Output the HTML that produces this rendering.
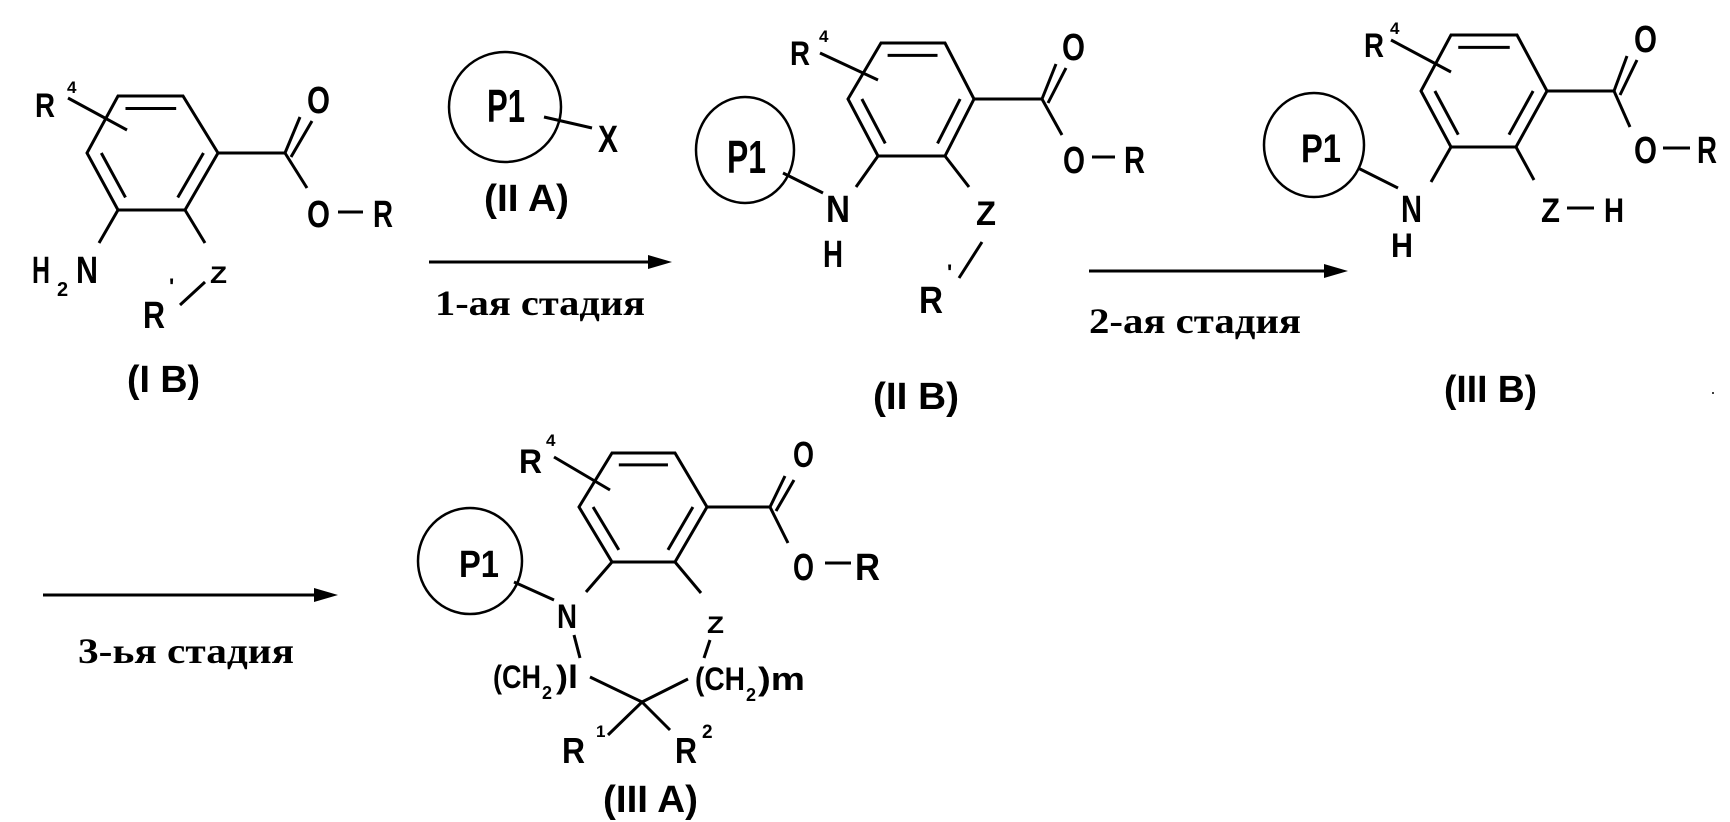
<!DOCTYPE html>
<html><head><meta charset="utf-8"><style>
html,body{margin:0;padding:0;background:#fff;}
svg{display:block;}
.t{font-family:"Liberation Sans Narrow","Liberation Sans",sans-serif;font-weight:bold;fill:#000;}
.s{font-family:"Liberation Serif",serif;font-weight:bold;fill:#000;}
line,polyline,polygon.r{stroke:#000;stroke-width:3;fill:none;}
ellipse{stroke:#000;stroke-width:2.5;fill:none;}
</style></head><body>
<svg width="1730" height="822" viewBox="0 0 1730 822" xmlns="http://www.w3.org/2000/svg">

<!-- ===== I B ===== -->
<polygon class="r" points="118,96 183,96 218,153 185,210 118,210 87,153"/>
<g transform="translate(152,153) scale(0.78) translate(-152,-153)">
<line x1="118" y1="96" x2="183" y2="96" vector-effect="non-scaling-stroke"/>
<line x1="87" y1="153" x2="118" y2="210" vector-effect="non-scaling-stroke"/>
<line x1="218" y1="153" x2="185" y2="210" vector-effect="non-scaling-stroke"/>
</g>
<line x1="68" y1="98" x2="127" y2="130"/>
<line x1="218" y1="153" x2="285" y2="153"/>
<line x1="285" y1="153" x2="300" y2="117"/>
<line x1="291" y1="157" x2="312" y2="121"/>
<line x1="285" y1="153" x2="307" y2="188"/>
<line x1="338" y1="212" x2="363" y2="212"/>
<line x1="118" y1="210" x2="99" y2="243"/>
<line x1="185" y1="210" x2="205" y2="243"/>
<line x1="180" y1="305" x2="205" y2="282"/>
<text class="t" x="35" y="117" font-size="34" textLength="20" lengthAdjust="spacingAndGlyphs">R</text>
<text class="t" x="67" y="93" font-size="17">4</text>
<text class="t" x="307" y="113" font-size="38" textLength="23" lengthAdjust="spacingAndGlyphs">O</text>
<text class="t" x="307" y="227" font-size="38" textLength="23" lengthAdjust="spacingAndGlyphs">O</text>
<text class="t" x="373" y="227" font-size="38" textLength="20" lengthAdjust="spacingAndGlyphs">R</text>
<text class="t" x="32" y="283" font-size="38" textLength="18" lengthAdjust="spacingAndGlyphs">H</text>
<text class="t" x="57" y="296" font-size="20">2</text>
<text class="t" x="76" y="283" font-size="38" textLength="22" lengthAdjust="spacingAndGlyphs">N</text>
<text class="t" x="210" y="283" font-size="24" textLength="17" lengthAdjust="spacingAndGlyphs">Z</text>
<text class="t" x="143" y="328" font-size="38" textLength="22" lengthAdjust="spacingAndGlyphs">R</text>
<text class="t" x="169" y="294" font-size="22">'</text>
<text class="t" x="127" y="392" font-size="38" textLength="73" lengthAdjust="spacingAndGlyphs">(I B)</text>

<!-- ===== II A ===== -->
<ellipse cx="505" cy="107" rx="56" ry="55"/>
<text class="t" x="487" y="122" font-size="46" textLength="38" lengthAdjust="spacingAndGlyphs">P1</text>
<line x1="544" y1="117" x2="592" y2="128"/>
<text class="t" x="598" y="152" font-size="38" textLength="20" lengthAdjust="spacingAndGlyphs">X</text>
<text class="t" x="484" y="211" font-size="38" textLength="85" lengthAdjust="spacingAndGlyphs">(II A)</text>

<!-- arrow 1 -->
<line x1="429" y1="262" x2="652" y2="262"/>
<polygon points="672,262 648,255 648,269" fill="#000"/>
<text class="s" x="435" y="315" font-size="36" textLength="210" lengthAdjust="spacingAndGlyphs">1-ая стадия</text>

<!-- ===== II B ===== -->
<polygon class="r" points="881,43 945,43 974,99 945,156 878,156 848,99"/>
<g transform="translate(911,99) scale(0.78) translate(-911,-99)">
<line x1="881" y1="43" x2="945" y2="43" vector-effect="non-scaling-stroke"/>
<line x1="848" y1="99" x2="878" y2="156" vector-effect="non-scaling-stroke"/>
<line x1="974" y1="99" x2="945" y2="156" vector-effect="non-scaling-stroke"/>
</g>
<line x1="820" y1="53" x2="878" y2="80"/>
<line x1="974" y1="99" x2="1042" y2="99"/>
<line x1="1042" y1="99" x2="1056" y2="64"/>
<line x1="1048" y1="103" x2="1066" y2="68"/>
<line x1="1042" y1="99" x2="1062" y2="135"/>
<line x1="1092" y1="157" x2="1115" y2="157"/>
<ellipse cx="745" cy="150" rx="49" ry="53"/>
<text class="t" x="727" y="173" font-size="46" textLength="39" lengthAdjust="spacingAndGlyphs">P1</text>
<line x1="783" y1="173" x2="823" y2="193"/>
<line x1="878" y1="156" x2="856" y2="187"/>
<line x1="945" y1="156" x2="969" y2="187"/>
<line x1="982" y1="242" x2="959" y2="278"/>
<text class="t" x="790" y="65" font-size="34" textLength="20" lengthAdjust="spacingAndGlyphs">R</text>
<text class="t" x="819" y="42" font-size="17">4</text>
<text class="t" x="1062" y="60" font-size="38" textLength="23" lengthAdjust="spacingAndGlyphs">O</text>
<text class="t" x="1063" y="173" font-size="38" textLength="22" lengthAdjust="spacingAndGlyphs">O</text>
<text class="t" x="1124" y="173" font-size="38" textLength="21" lengthAdjust="spacingAndGlyphs">R</text>
<text class="t" x="826" y="222" font-size="38" textLength="24" lengthAdjust="spacingAndGlyphs">N</text>
<text class="t" x="823" y="267" font-size="38" textLength="20" lengthAdjust="spacingAndGlyphs">H</text>
<text class="t" x="976" y="225" font-size="34" textLength="20" lengthAdjust="spacingAndGlyphs">Z</text>
<text class="t" x="919" y="313" font-size="38" textLength="24" lengthAdjust="spacingAndGlyphs">R</text>
<text class="t" x="947" y="280" font-size="22">'</text>
<text class="t" x="873" y="409" font-size="38" textLength="86" lengthAdjust="spacingAndGlyphs">(II B)</text>

<!-- arrow 2 -->
<line x1="1089" y1="271" x2="1328" y2="271"/>
<polygon points="1348,271 1324,264 1324,278" fill="#000"/>
<text class="s" x="1089" y="333" font-size="36" textLength="212" lengthAdjust="spacingAndGlyphs">2-ая стадия</text>

<!-- ===== III B ===== -->
<polygon class="r" points="1451,35 1517,35 1547,91 1516,147 1451,147 1421,91"/>
<g transform="translate(1484,91) scale(0.78) translate(-1484,-91)">
<line x1="1451" y1="35" x2="1517" y2="35" vector-effect="non-scaling-stroke"/>
<line x1="1421" y1="91" x2="1451" y2="147" vector-effect="non-scaling-stroke"/>
<line x1="1547" y1="91" x2="1516" y2="147" vector-effect="non-scaling-stroke"/>
</g>
<line x1="1391" y1="40" x2="1451" y2="72"/>
<line x1="1547" y1="91" x2="1614" y2="91"/>
<line x1="1614" y1="91" x2="1627" y2="56"/>
<line x1="1620" y1="95" x2="1637" y2="60"/>
<line x1="1614" y1="91" x2="1630" y2="127"/>
<line x1="1663" y1="148" x2="1690" y2="148"/>
<ellipse cx="1314" cy="145" rx="50" ry="52"/>
<text class="t" x="1301" y="162" font-size="40" textLength="40" lengthAdjust="spacingAndGlyphs">P1</text>
<line x1="1358" y1="168" x2="1398" y2="188"/>
<line x1="1451" y1="147" x2="1431" y2="182"/>
<line x1="1516" y1="147" x2="1534" y2="180"/>
<line x1="1567" y1="208" x2="1594" y2="208"/>
<text class="t" x="1364" y="57" font-size="34" textLength="20" lengthAdjust="spacingAndGlyphs">R</text>
<text class="t" x="1390" y="34" font-size="17">4</text>
<text class="t" x="1634" y="52" font-size="38" textLength="23" lengthAdjust="spacingAndGlyphs">O</text>
<text class="t" x="1634" y="163" font-size="38" textLength="23" lengthAdjust="spacingAndGlyphs">O</text>
<text class="t" x="1697" y="163" font-size="38" textLength="20" lengthAdjust="spacingAndGlyphs">R</text>
<text class="t" x="1401" y="222" font-size="38" textLength="21" lengthAdjust="spacingAndGlyphs">N</text>
<text class="t" x="1391" y="257" font-size="34" textLength="22" lengthAdjust="spacingAndGlyphs">H</text>
<text class="t" x="1541" y="222" font-size="34" textLength="19" lengthAdjust="spacingAndGlyphs">Z</text>
<text class="t" x="1604" y="222" font-size="34" textLength="20" lengthAdjust="spacingAndGlyphs">H</text>
<text class="t" x="1444" y="402" font-size="38" textLength="93" lengthAdjust="spacingAndGlyphs">(III B)</text>
<circle cx="1713" cy="393" r="1" fill="#000"/>

<!-- arrow 3 -->
<line x1="43" y1="595" x2="318" y2="595"/>
<polygon points="338,595 314,588 314,602" fill="#000"/>
<text class="s" x="78" y="663" font-size="36" textLength="216" lengthAdjust="spacingAndGlyphs">3-ья стадия</text>

<!-- ===== III A ===== -->
<polygon class="r" points="612,453 675,453 707,507 675,562 612,562 579,507"/>
<g transform="translate(643,507) scale(0.78) translate(-643,-507)">
<line x1="612" y1="453" x2="675" y2="453" vector-effect="non-scaling-stroke"/>
<line x1="579" y1="507" x2="612" y2="562" vector-effect="non-scaling-stroke"/>
<line x1="707" y1="507" x2="675" y2="562" vector-effect="non-scaling-stroke"/>
</g>
<line x1="554" y1="457" x2="610" y2="490"/>
<line x1="707" y1="507" x2="770" y2="507"/>
<line x1="770" y1="507" x2="785" y2="476"/>
<line x1="776" y1="511" x2="794" y2="480"/>
<line x1="770" y1="507" x2="788" y2="543"/>
<line x1="825" y1="563" x2="851" y2="563"/>
<ellipse cx="470" cy="561" rx="52" ry="53"/>
<text class="t" x="459" y="577" font-size="38" textLength="40" lengthAdjust="spacingAndGlyphs">P1</text>
<line x1="514" y1="582" x2="554" y2="600"/>
<line x1="612" y1="562" x2="586" y2="592"/>
<line x1="675" y1="562" x2="701" y2="593"/>
<line x1="574" y1="635" x2="580" y2="658"/>
<line x1="710" y1="640" x2="704" y2="658"/>
<line x1="590" y1="677" x2="642" y2="702"/>
<line x1="688" y1="679" x2="642" y2="702"/>
<line x1="642" y1="702" x2="608" y2="735"/>
<line x1="642" y1="702" x2="670" y2="730"/>
<text class="t" x="519" y="473" font-size="34" textLength="23" lengthAdjust="spacingAndGlyphs">R</text>
<text class="t" x="546" y="446" font-size="17">4</text>
<text class="t" x="793" y="467" font-size="36" textLength="21" lengthAdjust="spacingAndGlyphs">O</text>
<text class="t" x="793" y="580" font-size="38" textLength="21" lengthAdjust="spacingAndGlyphs">O</text>
<text class="t" x="855" y="580" font-size="38" textLength="25" lengthAdjust="spacingAndGlyphs">R</text>
<text class="t" x="557" y="628" font-size="34" textLength="20" lengthAdjust="spacingAndGlyphs">N</text>
<text class="t" x="707" y="633" font-size="24" textLength="17" lengthAdjust="spacingAndGlyphs">Z</text>
<text class="t" x="493" y="688" font-size="32" textLength="48" lengthAdjust="spacingAndGlyphs">(CH</text>
<text class="t" x="542" y="699" font-size="18">2</text>
<text class="t" x="556" y="688" font-size="32" textLength="22" lengthAdjust="spacingAndGlyphs">)l</text>
<text class="t" x="695" y="690" font-size="32" textLength="50" lengthAdjust="spacingAndGlyphs">(CH</text>
<text class="t" x="746" y="701" font-size="18">2</text>
<text class="t" x="758" y="690" font-size="32" textLength="47" lengthAdjust="spacingAndGlyphs">)m</text>
<text class="t" x="562" y="763" font-size="36" textLength="23" lengthAdjust="spacingAndGlyphs">R</text>
<text class="t" x="596" y="737" font-size="17">1</text>
<text class="t" x="675" y="763" font-size="36" textLength="22" lengthAdjust="spacingAndGlyphs">R</text>
<text class="t" x="702" y="738" font-size="19">2</text>
<text class="t" x="603" y="812" font-size="38" textLength="95" lengthAdjust="spacingAndGlyphs">(III A)</text>
</svg>
</body></html>
